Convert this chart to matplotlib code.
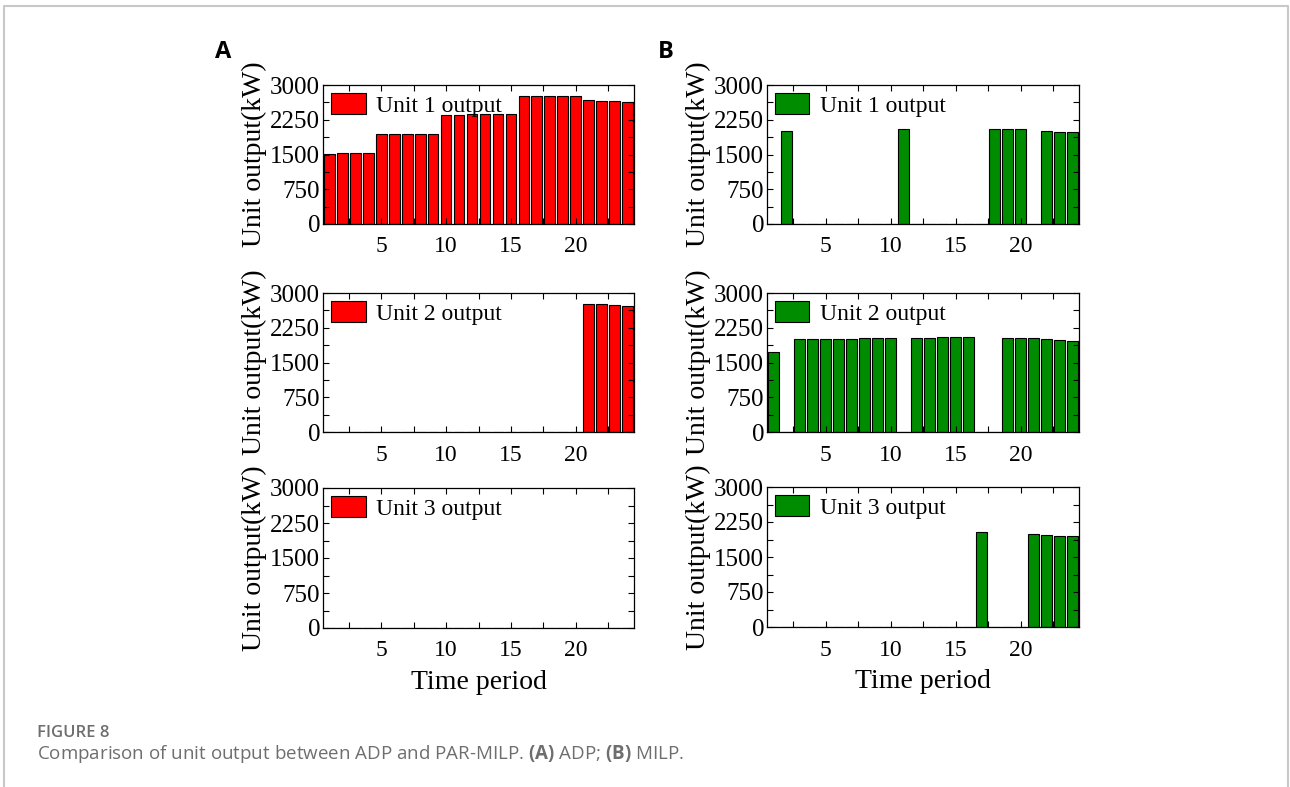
"""
Unit output comparison between ADP and PAR-MILP (Figure 8).
Two columns (A: ADP, B: MILP), three rows (unit 1..3), 24 time periods.
"""
import numpy as np
import matplotlib.pyplot as plt
from matplotlib.ticker import MultipleLocator, FixedLocator

periods = np.arange(1, 25)

# (A) ADP, kW per period
adp_unit1 = [1515, 1530, 1530, 1530, 1940, 1940, 1940, 1950, 1950, 2345, 2345, 2365,
             2365, 2365, 2365, 2755, 2760, 2760, 2760, 2760, 2680, 2665, 2650, 2630]
adp_unit2 = [0] * 20 + [2770, 2755, 2745, 2725]
adp_unit3 = [0] * 24

# (B) MILP, kW per period
milp_unit1 = [0, 2010, 0, 0, 0, 0, 0, 0, 0, 0, 2040, 0,
              0, 0, 0, 0, 0, 2055, 2040, 2040, 0, 2010, 1990, 1975]
milp_unit2 = [1735, 0, 2005, 2005, 2015, 2015, 2015, 2020, 2020, 2020, 0, 2030,
              2030, 2045, 2045, 2045, 0, 0, 2030, 2030, 2020, 2000, 1985, 1970]
milp_unit3 = [0] * 16 + [2030, 0, 0, 0, 2000, 1980, 1960, 1945]

unit_names = ["Unit 1 output", "Unit 2 output", "Unit 3 output"]
y_ticks = [0, 750, 1500, 2250, 3000]
x_ticks = [5, 10, 15, 20]

RED = "#ff0000"
GREEN = "#008c00"
SERIF = "Liberation Serif"

# bold "(A)"/"(B)" in the caption come through mathtext -> use Open Sans there too
plt.rcParams["mathtext.fontset"] = "custom"
plt.rcParams["mathtext.rm"] = "Open Sans"
plt.rcParams["mathtext.bf"] = "Open Sans:bold"

W, H = 1290, 787
fig = plt.figure(figsize=(W / 100, H / 100), dpi=100)

# frame around the figure (open at the bottom)
fig.add_artist(plt.Line2D([4 / W, 4 / W, 1288 / W, 1288 / W],
                          [0, 1 - 6 / H, 1 - 6 / H, 0],
                          transform=fig.transFigure, color="#c8c8c8", lw=1.5))

# pixel boxes: (left, right) per column, (top, bottom) per row
cols = [(323, 634), (767, 1079)]
rows = [(85, 224), (293, 432), (488, 628)]


def panel(left, right, top, bottom, values, label, color, xlabel):
    ax = fig.add_axes([left / W, 1 - bottom / H, (right - left) / W, (bottom - top) / H])
    ax.bar(periods, values, width=0.82, color=color, edgecolor="black", linewidth=0.8,
           label=label)
    ax.set_xlim(0.5, 24.5)
    ax.set_ylim(0, 3000)
    ax.yaxis.set_major_locator(FixedLocator(y_ticks))
    ax.yaxis.set_minor_locator(MultipleLocator(375))
    ax.xaxis.set_major_locator(FixedLocator(x_ticks))
    ax.xaxis.set_minor_locator(MultipleLocator(2.5))
    ax.tick_params(which="both", direction="in", top=True, right=True, length=4,
                   width=0.8)
    ax.tick_params(axis="y", labelsize=18, pad=2)
    ax.tick_params(axis="x", labelsize=17, pad=9)
    for t in ax.get_xticklabels() + ax.get_yticklabels():
        t.set_family(SERIF)
    for s in ax.spines.values():
        s.set_linewidth(0.9)
    ax.set_ylabel("Unit output(kW)", family=SERIF, fontsize=20, labelpad=2)
    if xlabel:
        ax.set_xlabel("Time period", family=SERIF, fontsize=20, labelpad=6)
    ax.legend(loc="upper left", frameon=False, prop={"family": SERIF, "size": 17},
              handlelength=1.45, handleheight=0.95, handletextpad=0.45,
              borderaxespad=0.15, borderpad=0.2)
    return ax


adp = [adp_unit1, adp_unit2, adp_unit3]
milp = [milp_unit1, milp_unit2, milp_unit3]
for i, (top, bottom) in enumerate(rows):
    panel(cols[0][0], cols[0][1], top, bottom, adp[i], unit_names[i], RED, i == 2)
    b_top, b_bot = (487, 627) if i == 2 else (top, bottom)
    panel(cols[1][0], cols[1][1], b_top, b_bot, milp[i], unit_names[i], GREEN, i == 2)

fig.text(215 / W, 1 - 58 / H, "A", family="Open Sans", fontweight="bold", fontsize=17)
fig.text(658 / W, 1 - 58 / H, "B", family="Open Sans", fontweight="bold", fontsize=17)

fig.text(37 / W, 1 - 737 / H, "FIGURE 8", family="Open Sans", fontweight="semibold",
         fontsize=12, color="#6e6e6e")
fig.text(37 / W, 1 - 759 / H,
         r"Comparison of unit output between ADP and PAR-MILP. $\mathbf{(A)}$ ADP; "
         r"$\mathbf{(B)}$ MILP.", family="Open Sans", fontsize=13.5, color="#6e6e6e")

fig.savefig("out.png", dpi=100)
